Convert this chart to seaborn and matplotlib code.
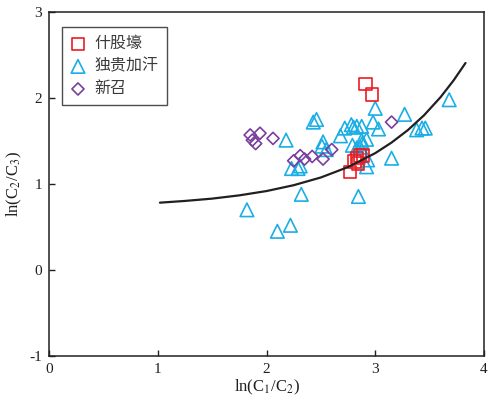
import matplotlib
matplotlib.use("Agg")
import matplotlib.pyplot as plt
import seaborn as sns
import pandas as pd

# ---- data ----
shi_x = [2.91, 2.97, 2.86, 2.89, 2.83, 2.81, 2.84, 2.77]
shi_y = [2.16, 2.04, 1.33, 1.33, 1.30, 1.26, 1.24, 1.14]

du_x = [3.68, 3.00, 3.27, 2.98, 3.03, 2.46, 2.43, 2.72, 2.78, 2.83, 2.875, 2.80,
        2.68, 2.18, 2.52, 2.51, 2.55, 2.79, 2.875, 2.92, 2.86, 2.83, 3.38, 3.43,
        3.46, 3.15, 2.92, 2.93, 2.23, 2.29, 2.31, 2.32, 2.845, 1.82, 2.10, 2.22, 2.88]
du_y = [1.98, 1.88, 1.81, 1.72, 1.64, 1.75, 1.72, 1.65, 1.69, 1.67, 1.67, 1.66,
        1.56, 1.51, 1.49, 1.44, 1.40, 1.45, 1.51, 1.52, 1.43, 1.42, 1.63, 1.65,
        1.65, 1.30, 1.20, 1.28, 1.18, 1.18, 1.21, 0.88, 0.855, 0.70, 0.45, 0.52, 1.47]

xin_x = [1.85, 1.94, 1.87, 1.90, 2.06, 2.25, 2.31, 2.35, 2.42, 2.52, 2.60, 3.15]
xin_y = [1.57, 1.59, 1.51, 1.47, 1.53, 1.27, 1.33, 1.29, 1.32, 1.29, 1.40, 1.72]

curve_x = [1.02, 1.25, 1.5, 1.75, 2.0, 2.25, 2.5, 2.75, 3.0, 3.15, 3.3, 3.45, 3.6, 3.72, 3.83]
curve_y = [0.783, 0.803, 0.830, 0.868, 0.918, 0.986, 1.076, 1.197, 1.359, 1.482,
           1.627, 1.801, 2.009, 2.204, 2.407]

labels = ["什股壕", "独贵加汗", "新召"]
colors = ["#ec1c24", "#1aaee6", "#7a3f9d"]
x_ticks = [0, 1, 2, 3, 4]
y_ticks = [-1, 0, 1, 2, 3]

sns.set_theme(style="white")
plt.rcParams["font.family"] = ["Liberation Serif", "DejaVu Serif"]
plt.rcParams["mathtext.fontset"] = "stix"

fig = plt.figure(figsize=(4.96, 4.07), dpi=100)
ax = fig.add_axes([49 / 496, 1 - 356 / 407, (484 - 49) / 496, (356 - 12) / 407])

sns.lineplot(x=curve_x, y=curve_y, ax=ax, color="#231f20", linewidth=1.6,
             estimator=None, sort=True, legend=False, zorder=5)

sns.scatterplot(x=shi_x, y=shi_y, ax=ax, marker="s", s=80, facecolor="none",
                edgecolor=colors[0], linewidth=1.2, label=labels[0], zorder=4)
sns.scatterplot(x=du_x, y=du_y, ax=ax, marker="^", s=95, facecolor="none",
                edgecolor=colors[1], linewidth=1.2, label=labels[1], zorder=2)
sns.scatterplot(x=xin_x, y=xin_y, ax=ax, marker="D", s=38, facecolor="none",
                edgecolor=colors[2], linewidth=1.2, label=labels[2], zorder=3)

ax.set_xlim(0, 4)
ax.set_ylim(-1, 3)
ax.set_xticks(x_ticks)
ax.set_yticks(y_ticks)
ax.set_xticklabels([str(t) for t in x_ticks])
ax.set_yticklabels([str(t) for t in y_ticks])
ax.tick_params(direction="in", length=4, width=1, colors="#231f20",
               labelsize=11, labelcolor="#231f20", pad=5)
ax.tick_params(axis="x", bottom=True, top=False)
ax.tick_params(axis="y", left=True, right=False)
for sp in ax.spines.values():
    sp.set_color("#231f20")
    sp.set_linewidth(1.1)

ax.set_xlabel("ln(C$_1$/C$_2$)", fontsize=12, color="#231f20", labelpad=1)
ax.set_ylabel("ln(C$_2$/C$_3$)", fontsize=12, color="#231f20", labelpad=4)

leg = ax.legend(loc="upper left", bbox_to_anchor=(13 / 435, 1 - 15 / 344),
                borderaxespad=0, frameon=True, fancybox=False, shadow=False,
                prop={"family": ["Noto Sans CJK SC", "DejaVu Sans"], "size": 11.5},
                handletextpad=0.55, labelspacing=0.35, borderpad=0.5,
                handlelength=1.0)
leg.get_frame().set_edgecolor("#231f20")
leg.get_frame().set_linewidth(1.0)
for t in leg.get_texts():
    t.set_color("#3a3a3a")

fig.savefig("out.png", dpi=100)
